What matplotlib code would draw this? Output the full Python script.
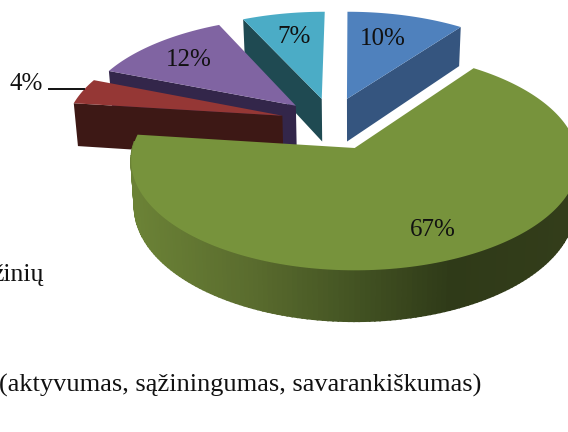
import matplotlib
matplotlib.use("Agg")
import matplotlib.pyplot as plt
import numpy as np
from matplotlib.colors import to_rgb

plt.rcParams['font.family'] = ['Liberation Serif', 'DejaVu Serif']

# slices, clockwise from 12 o'clock
values = [10, 67, 4, 12, 7]
value_labels = ["10%", "67%", "4%", "12%", "7%"]
top_colors = ["#4f81bd", "#77933c", "#953735", "#8064a2", "#4bacc6"]
wall_colors = ["#35557f", "#2f3a18", "#3d1815", "#33264a", "#1f4a52"]
caption = "(aktyvumas, sąžiningumas, savarankiškumas)"
cut_word = "žinių"

# layout, in the units of the unit disc
explode_u = [-0.024, 0.012, -0.325, -0.265, -0.144]
explode_v = [0.48, 0.0, 0.31, 0.41, 0.48]
label_xy = [(383, 39), (433, 230), (26, 84), (189, 60), (294, 37)]

# projection of the disc onto the page (pixels)
CX, CY = 352, 148
A, B, K = 222.0, 108.0, 0.117
DEPTH = 45.0
SHRINK = 0.985


def project(u, v, bottom=False):
    p = 1 / (1 + K * v)
    x = A * u * p
    y = CY - B * v * p
    if bottom:
        return CX + x * SHRINK, y + DEPTH * p
    return CX + x, y


def side_color(x):
    # green rim gets darker going to the right
    xs = [135, 250, 350, 450, 568]
    stops = [to_rgb(c) for c in ["#6b8236", "#5a6c2e", "#445423", "#2f3a18", "#333d1a"]]
    return [np.interp(x, xs, [s[i] for s in stops]) for i in range(3)]


fig = plt.figure(figsize=(5.68, 4.32), dpi=100)
ax = fig.add_axes([0, 0, 1, 1])
ax.set_xlim(0, 568)
ax.set_ylim(432, 0)
ax.axis("off")

ends = np.cumsum(values) / np.sum(values) * 2 * np.pi
starts = np.concatenate([[0], ends[:-1]])

for i in [4, 0, 3, 2, 1]:  # back to front
    th = np.linspace(starts[i], ends[i], 200)
    u = explode_u[i] + np.sin(th)
    v = explode_v[i] + np.cos(th)
    x0, y0 = project(explode_u[i], explode_v[i])
    xb0, yb0 = project(explode_u[i], explode_v[i], True)
    xt, yt = project(u, v)
    xb, yb = project(u, v, True)

    if i == 1:
        # rim with a left to right shade, only the part facing us
        for j in range(len(th) - 1):
            if np.cos(th[j]) > 0.05:
                continue
            c = side_color((xt[j] + xt[j + 1]) / 2)
            ax.fill([xt[j], xt[j + 1], xb[j + 1], xb[j]],
                    [yt[j], yt[j + 1], yb[j + 1], yb[j]],
                    facecolor=c, edgecolor=c, lw=1.2)
    else:
        # the cut face that looks at us
        k = -1 if i == 0 else 0
        ax.fill([x0, xt[k], xb[k], xb0], [y0, yt[k], yb[k], yb0],
                color=wall_colors[i], lw=0)

    ax.fill(np.r_[x0, xt], np.r_[y0, yt], color=top_colors[i], lw=0)

for i in range(len(values)):
    ax.text(label_xy[i][0], label_xy[i][1], value_labels[i], fontsize=18,
            ha="center", va="center", color="#111111")

ax.plot([49, 84], [89, 89], color="#111111", lw=1.4)
ax.text(44, 281, cut_word, fontsize=18.5, ha="right", va="baseline", color="#111111")
ax.text(-1, 392, caption, fontsize=19, ha="left", va="baseline", color="#111111")

plt.savefig("out.png", dpi=100)
